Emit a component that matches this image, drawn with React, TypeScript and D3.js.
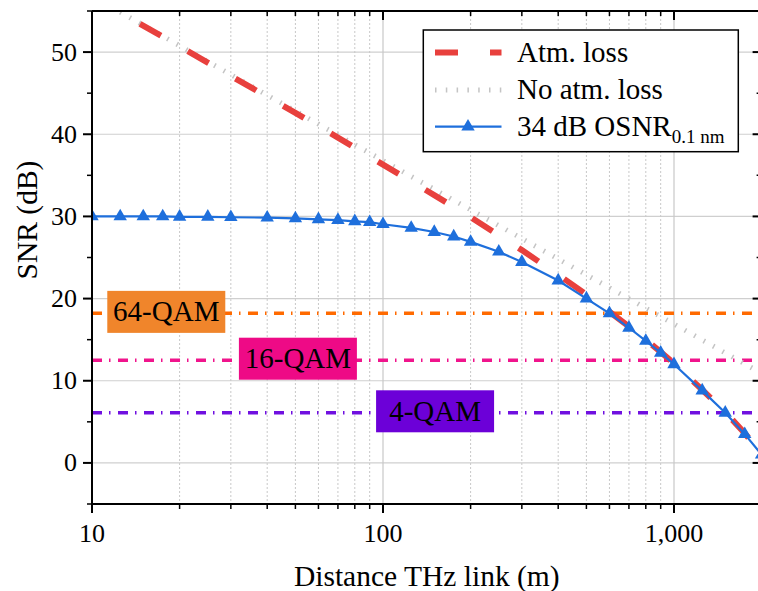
import React from 'react';
import * as d3 from 'd3';

// distances (m) where the 34 dB OSNR curve has markers
const osnrDistances = [10, 12.5, 15, 17.5, 20, 25, 30, 40, 50, 60, 70, 80, 90, 100, 125, 150, 175, 200, 250, 300, 400, 500, 600, 700, 800, 900, 1000, 1250, 1500, 1750, 2000];
const osnrSnr = [30, 30, 30, 30, 29.95, 29.95, 29.9, 29.85, 29.75, 29.65, 29.55, 29.4, 29.3, 29.05, 28.6, 28.1, 27.55, 26.9, 25.7, 24.45, 22.2, 20.0, 18.2, 16.45, 14.85, 13.4, 12.0, 8.8, 6.1, 3.5, 1.0];

const atmDistances = [10, 12.5, 20, 30, 50, 70, 100, 150, 200, 300, 400, 500, 600, 700, 800, 900, 1000, 1250, 1500, 1750, 2000];
const atmSnr = [56.7, 54.8, 50.7, 47.1, 42.6, 39.6, 36.3, 32.6, 29.9, 25.9, 22.9, 20.5, 18.4, 16.6, 15.0, 13.5, 12.1, 8.9, 6.2, 3.6, 1.2];

const noAtmDistances = [10, 100, 1000, 2000];
const noAtmSnr = [56.8, 36.8, 16.9, 10.9];

const qamLabels = ['64-QAM', '16-QAM', '4-QAM'];
const qamSnr = [18.2, 12.5, 6.1];

const xMajor = [10, 100, 1000];
const xMinor = [20, 30, 40, 50, 60, 70, 80, 90, 200, 300, 400, 500, 600, 700, 800, 900, 2000];
const yMajor = [0, 10, 20, 30, 40, 50];
const yMinor = [-5, 5, 15, 25, 35, 45, 55];

// where the threshold tags sit along the x axis (m)
const qamTagAt = [18, 51, 151];
const qamLine = ['#ff6a00', '#f0148c', '#7010e0'];
const qamFill = ['#f0852b', '#ee0a86', '#6c00d8'];

const W = 758;
const H = 591;
const left = 92;
const right = 761.6;
const top = 11;
const bottom = 504;

const serif = "'Liberation Serif', Tinos, 'Times New Roman', Times, 'DejaVu Serif', serif";

export default function App() {
  const x = d3.scaleLog().domain([10, 2000]).range([left, right]);
  const y = d3.scaleLinear().domain([-5, 55]).range([bottom, top]);

  const line = d3.line<[number, number]>()
    .x(d => x(d[0]))
    .y(d => y(d[1]));

  const osnrPts = osnrDistances.map((d, i) => [d, osnrSnr[i]] as [number, number]);
  const atmPts = atmDistances.map((d, i) => [d, atmSnr[i]] as [number, number]);
  const noAtmPts = noAtmDistances.map((d, i) => [d, noAtmSnr[i]] as [number, number]);

  const tri = d3.symbol(d3.symbolTriangle, 78)();
  const fmt = d3.format(',');

  const red = '#e8403d';
  const blue = '#1e6fdc';
  const gray = '#c4c4c4';
  const ts = { fontFamily: serif };

  return (
    <svg width={W} height={H} style={{ position: 'absolute', left: 0, top: 0, background: '#fff', fontFamily: serif }}>
      <defs>
        <clipPath id="plot">
          <rect x={left} y={top} width={right - left} height={bottom - top} />
        </clipPath>
      </defs>

      {/* grid */}
      {yMajor.map(v => (
        <line key={'gy' + v} x1={left} x2={right} y1={y(v)} y2={y(v)} stroke="#cfcfcf" strokeWidth={1.2} />
      ))}
      {xMinor.map(v => (
        <line key={'gx' + v} x1={x(v)} x2={x(v)} y1={top} y2={bottom} stroke="#c8c8c8" strokeWidth={1} strokeDasharray="2 2" />
      ))}
      {xMajor.map(v => (
        <line key={'gX' + v} x1={x(v)} x2={x(v)} y1={top} y2={bottom} stroke="#c8c8c8" strokeWidth={1.2} />
      ))}

      {/* modulation thresholds */}
      {qamSnr.map((v, i) => (
        <line key={'q' + i} x1={left} x2={right} y1={y(v)} y2={y(v)} stroke={qamLine[i]} strokeWidth={3.5} strokeDasharray="10 7 1.5 7.5" />
      ))}

      <g clipPath="url(#plot)">
        <path d={line(noAtmPts) || ''} fill="none" stroke={gray} strokeWidth={5} strokeDasharray="1.5 9.3" />
        <path d={line(atmPts) || ''} fill="none" stroke={red} strokeWidth={6} strokeDasharray="24 31" />
        <path d={line(osnrPts) || ''} fill="none" stroke={blue} strokeWidth={2.2} />
        {osnrPts.map((p, i) => (
          <path key={'t' + i} d={tri || ''} transform={`translate(${x(p[0])},${y(p[1])})`} fill={blue} />
        ))}
      </g>

      {/* threshold tags */}
      {qamLabels.map((lab, i) => (
        <g key={lab} transform={`translate(${x(qamTagAt[i])},${y(qamSnr[i]) - 1.5})`}>
          <rect x={-59} y={-21} width={118} height={42} fill={qamFill[i]} />
          <text x={0} y={9.5} textAnchor="middle" fontSize={29} fill="#000" style={ts}>{lab}</text>
        </g>
      ))}

      {/* axes */}
      <line x1={left} x2={right} y1={bottom} y2={bottom} stroke="#000" strokeWidth={2} />
      <line x1={left} x2={right} y1={top} y2={top} stroke="#000" strokeWidth={2} />
      <line x1={left} x2={left} y1={top} y2={bottom} stroke="#000" strokeWidth={2} />
      <line x1={right} x2={right} y1={top} y2={bottom} stroke="#000" strokeWidth={2} />

      {xMajor.map(v => (
        <g key={'xt' + v}>
          <line x1={x(v)} x2={x(v)} y1={bottom} y2={bottom + 9} stroke="#000" strokeWidth={2} />
          <line x1={x(v)} x2={x(v)} y1={top} y2={top + 9} stroke="#000" strokeWidth={2} />
          <text x={x(v)} y={542} textAnchor="middle" fontSize={26} style={ts}>{fmt(v)}</text>
        </g>
      ))}
      {xMinor.map(v => (
        <g key={'xm' + v}>
          <line x1={x(v)} x2={x(v)} y1={bottom} y2={bottom + 5} stroke="#000" strokeWidth={1.5} />
          <line x1={x(v)} x2={x(v)} y1={top} y2={top + 5} stroke="#000" strokeWidth={1.5} />
        </g>
      ))}
      {yMajor.map(v => (
        <g key={'yt' + v}>
          <line x1={left - 9} x2={left} y1={y(v)} y2={y(v)} stroke="#000" strokeWidth={2} />
          <line x1={right - 9} x2={right} y1={y(v)} y2={y(v)} stroke="#000" strokeWidth={2} />
          <text x={77} y={y(v) + 8.5} textAnchor="end" fontSize={26} style={ts}>{v}</text>
        </g>
      ))}
      {yMinor.map(v => (
        <g key={'ym' + v}>
          <line x1={left - 5} x2={left} y1={y(v)} y2={y(v)} stroke="#000" strokeWidth={1.5} />
          <line x1={right - 5} x2={right} y1={y(v)} y2={y(v)} stroke="#000" strokeWidth={1.5} />
        </g>
      ))}

      <text x={(left + right) / 2} y={586} textAnchor="middle" fontSize={29.5} style={ts}>Distance THz link (m)</text>
      <text transform="translate(37,220) rotate(-90)" textAnchor="middle" fontSize={29.5} style={ts}>SNR (dB)</text>

      {/* legend */}
      <g>
        <rect x={423.3} y={30} width={315} height={121.7} fill="#fff" stroke="#000" strokeWidth={1.5} />
        <line x1={435} x2={501.5} y1={52.5} y2={52.5} stroke={red} strokeWidth={6} strokeDasharray="23 32" />
        <text x={517} y={61.5} fontSize={29} style={ts}>Atm. loss</text>
        <line x1={435} x2={501.5} y1={90} y2={90} stroke={gray} strokeWidth={5} strokeDasharray="1.5 9.3" />
        <text x={517} y={99.3} fontSize={29} style={ts}>No atm. loss</text>
        <line x1={435} x2={501.5} y1={126.7} y2={126.7} stroke={blue} strokeWidth={2.2} />
        <path d={tri || ''} transform="translate(468,126.7)" fill={blue} />
        <text x={517} y={136} fontSize={29} style={ts}>
          34 dB OSNR<tspan fontSize={19} dy={7}>0.1 nm</tspan>
        </text>
      </g>
    </svg>
  );
}
